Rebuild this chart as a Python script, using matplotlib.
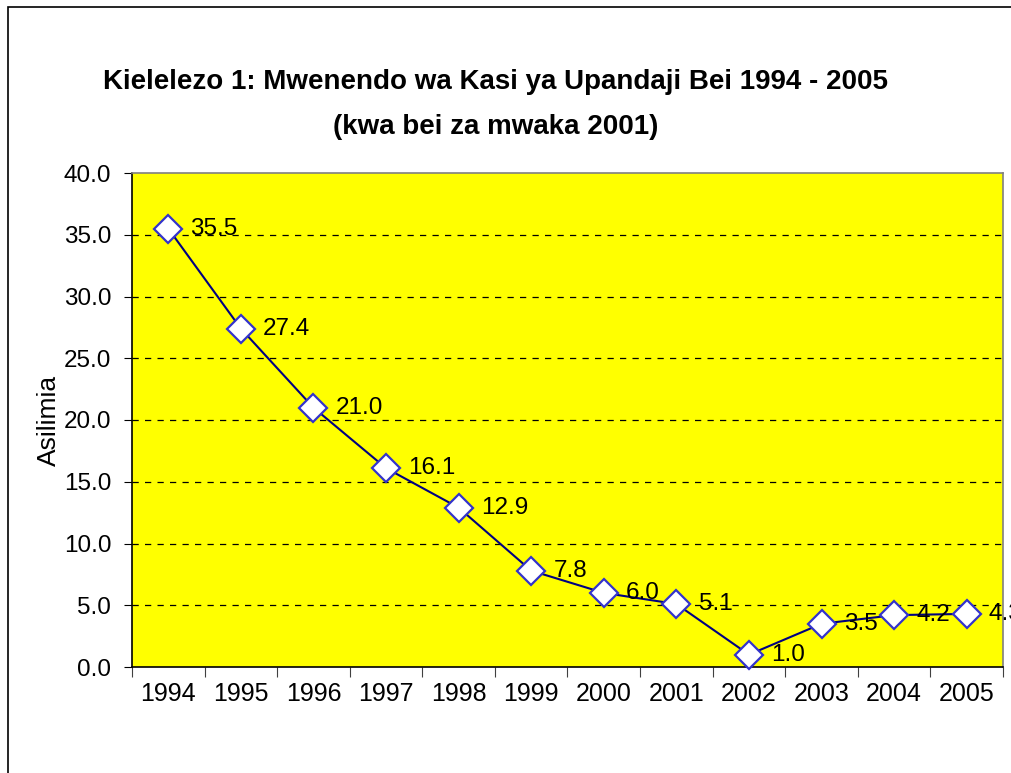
import numpy as np
import matplotlib.pyplot as plt
from matplotlib.patches import Rectangle

# data
years = ['1994', '1995', '1996', '1997', '1998', '1999', '2000', '2001', '2002', '2003', '2004', '2005']
rates = [35.5, 27.4, 21.0, 16.1, 12.9, 7.8, 6.0, 5.1, 1.0, 3.5, 4.2, 4.3]
yticks = [0, 5, 10, 15, 20, 25, 30, 35, 40]

plt.rcParams['font.family'] = ['Liberation Sans', 'DejaVu Sans']

fig = plt.figure(figsize=(10.12, 7.73), dpi=100)
ax = fig.add_axes([132/1012, 1 - 667/773, (1003 - 132)/1012, (667 - 173)/773])
ax.set_facecolor('#FFFF00')

x = np.arange(len(years))
ax.plot(x, rates, color='#000080', lw=1.5, marker='D', ms=14,
        mfc='white', mec='#3333CC', mew=1.6, zorder=3, clip_on=False)
for xi, v in zip(x, rates):
    ax.annotate(f'{v:.1f}', (xi, v), xytext=(16, 0), textcoords='offset points',
                ha='left', va='center', fontsize=17.5, annotation_clip=False)

ax.set_xlim(-0.5, len(years) - 0.5)
ax.set_ylim(0, 40)
ax.set_yticks(yticks)
ax.set_yticklabels([f'{t:.1f}' for t in yticks], fontsize=17.5)
ax.set_xticks(np.arange(len(years) + 1) - 0.5)
ax.set_xticklabels([])
ax.set_xticks(x, minor=True)
ax.set_xticklabels(years, minor=True, fontsize=18)
ax.tick_params(axis='x', which='minor', length=0, pad=11)
ax.tick_params(axis='x', which='major', length=7, color='#404040')
ax.tick_params(axis='y', length=6, pad=9)

for t in yticks[1:-1]:
    ax.axhline(t, color='black', lw=0.9, dashes=(5, 5), zorder=1)

ax.spines['top'].set_color('#808080')
ax.spines['right'].set_color('#808080')
for s in ax.spines.values():
    s.set_linewidth(1.2)

ax.set_ylabel('Asilimia', fontsize=19, labelpad=2)

fig.text(0.49, 1 - 82/773, 'Kielelezo 1: Mwenendo wa Kasi ya Upandaji Bei 1994 - 2005',
         ha='center', va='center', fontsize=20, fontweight='bold')
fig.text(0.49, 1 - 127/773, '(kwa bei za mwaka 2001)',
         ha='center', va='center', fontsize=20, fontweight='bold')

fig.patches.append(Rectangle((8/1012, -0.5), 2, 1.5 - 7/773, transform=fig.transFigure,
                             fill=False, ec='black', lw=1.2))

fig.savefig('out.png', dpi=100)
